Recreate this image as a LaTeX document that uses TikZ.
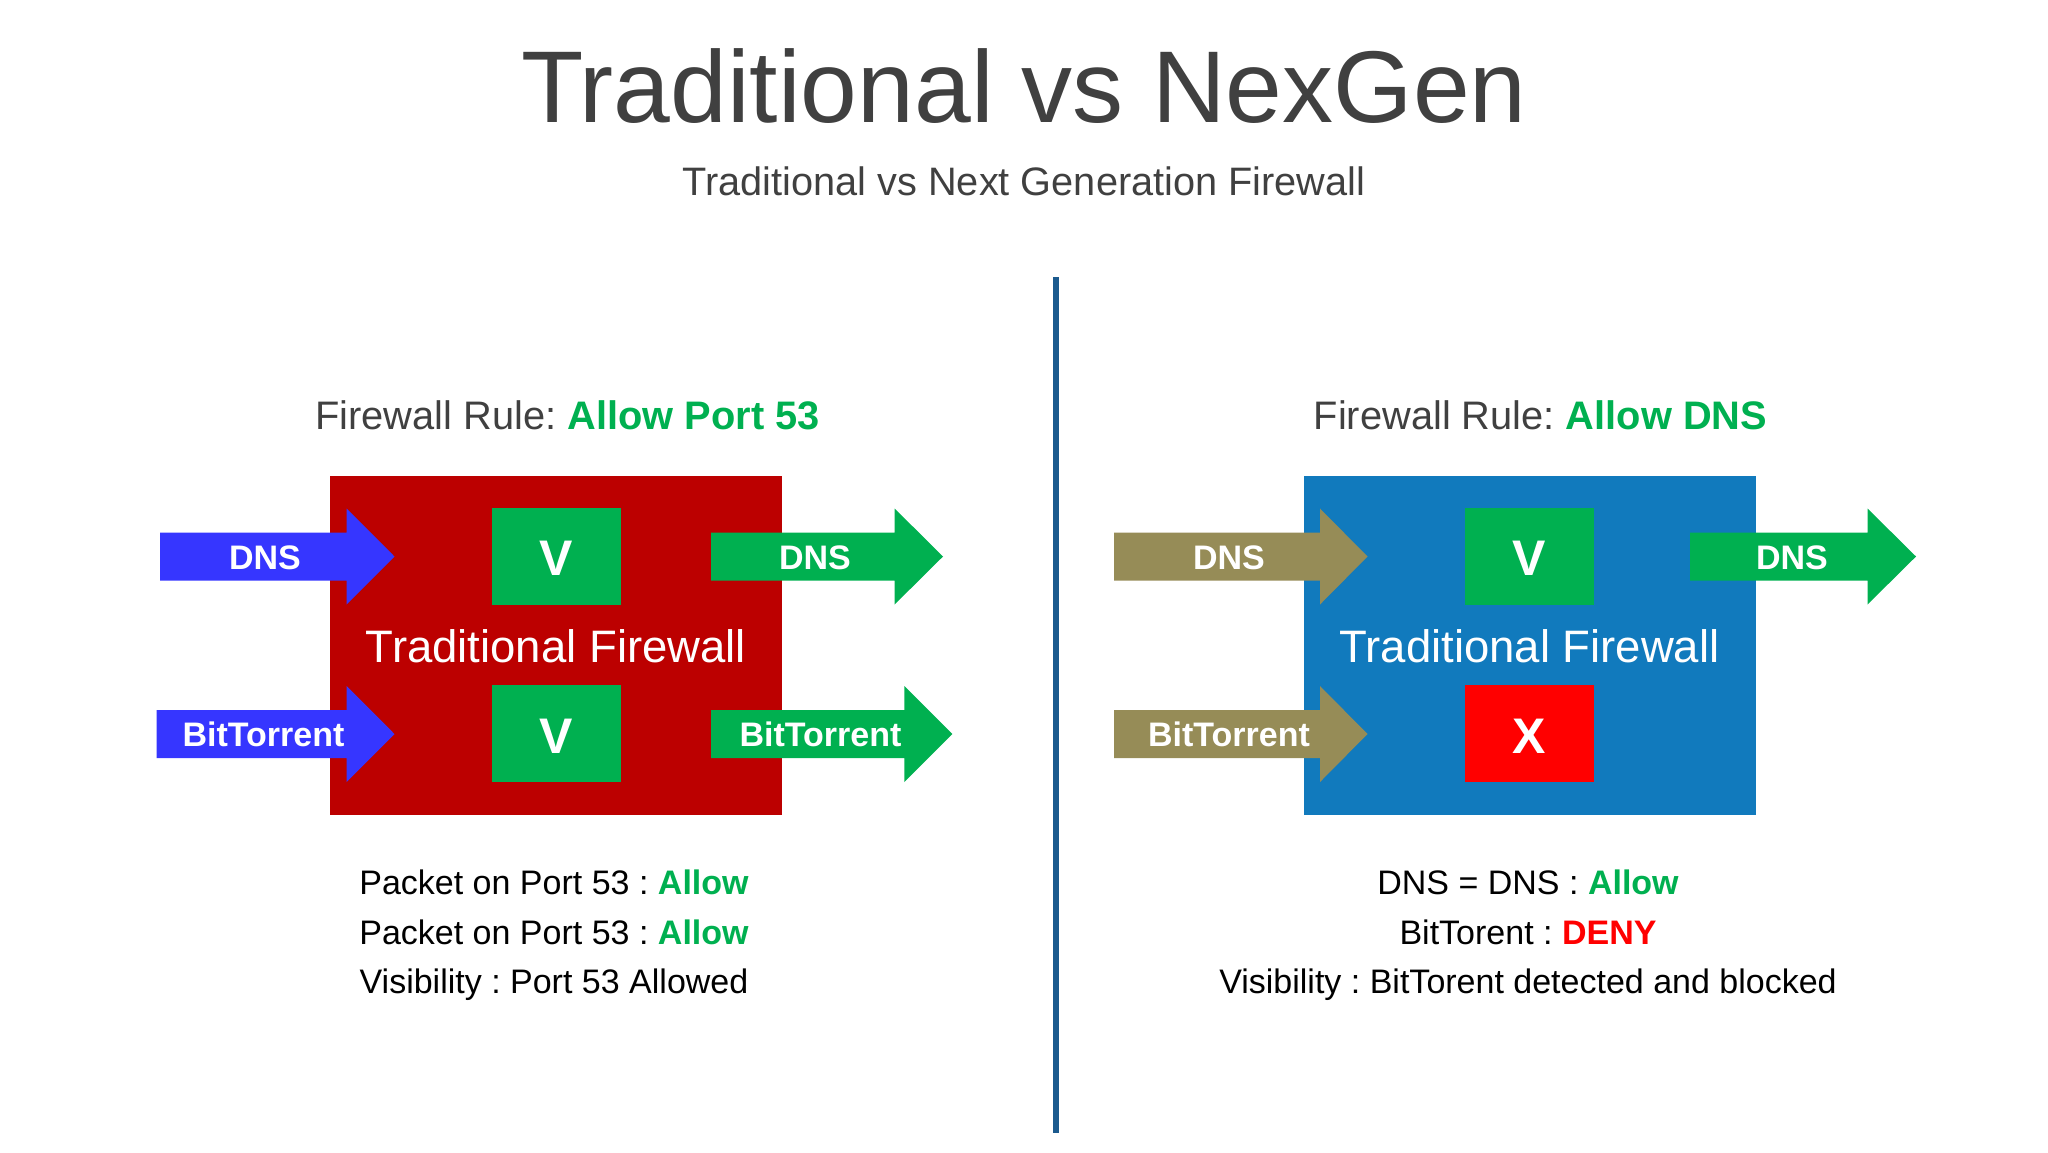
\documentclass[tikz,border=0pt]{standalone}
\usepackage{fontspec}
\setmainfont{Liberation Sans}
\usepackage{tikz}
\frenchspacing

\definecolor{custcol_title}{RGB}{64, 64, 64}
\definecolor{custcol_green}{RGB}{0, 176, 80}
\definecolor{custcol_red}{RGB}{255, 0, 0}
\definecolor{custcol_fwred}{RGB}{188, 0, 0}
\definecolor{custcol_fwblue}{RGB}{17, 122, 189}
\definecolor{custcol_blue}{RGB}{54, 54, 255}
\definecolor{custcol_olive}{RGB}{150, 140, 87}
\definecolor{custcol_line}{RGB}{27, 90, 142}

\tikzset{
  lbl/.style={inner sep=0, outer sep=0, anchor=base},
  titletxt/.style={lbl, custcol_title, font=\fontsize{102}{102}\selectfont},
  subtxt/.style={lbl, custcol_title, font=\fontsize{39.7}{40}\selectfont},
  ruletxt/.style={lbl, custcol_title, font=\fontsize{39.8}{40}\selectfont},
  fwtxt/.style={lbl, white, font=\fontsize{45.5}{46}\selectfont},
  verdicttxt/.style={lbl, black, font=\fontsize{34}{34}\selectfont},
  arrowtxt/.style={lbl, white, font=\fontsize{34}{34}\bfseries\selectfont},
  marktxt/.style={lbl, white, font=\fontsize{50}{50}\bfseries\selectfont},
  fwbox/.style={inner sep=0, outer sep=0, minimum width=452, minimum height=339},
  markbox/.style={inner sep=0, outer sep=0, minimum width=129, minimum height=97},
}

\begin{document}
\begin{tikzpicture}[x=1pt,y=-1pt]
	\useasboundingbox (0,0) rectangle (2048,1152);
	% heading
	\node[titletxt] (title) at (1024,122) {Traditional vs NexGen};
	\node[subtxt] (subtitle) at (1024,195) {Traditional vs Next Generation Firewall};
	% divider
	\coordinate (divtop) at (1056,277);
	\coordinate (divbot) at (1056,1133);
	\draw [line width=5.7pt, custcol_line] (divtop) -- (divbot);
	% left side
	\node[ruletxt] (ruleA) at (567.5,429) {Firewall Rule: \textcolor{custcol_green}{\bfseries Allow Port 53}};
	\node[fwbox, fill=custcol_fwred] (fwA) at (556,645.5) {};
	\node[markbox, fill=custcol_green] (topA) at (556,556.5) {};
	\node[markbox, fill=custcol_green] (botA) at (556,733.8) {};
	\node[marktxt] (topAv) at (556,575.7) {V};
	\node[marktxt] (botAv) at (556,753) {V};
	\node[fwtxt] (fwAtxt) at (556,662) {Traditional Firewall};
	\fill [custcol_blue] (160,532.5) -- (346.7,532.5) -- (346.7,508.5) -- (394.5,556.5) -- (346.7,604.5) -- (346.7,580.5) -- (160,580.5) -- cycle;
	\fill [custcol_blue] (156.7,710) -- (346.7,710) -- (346.7,686) -- (394.5,734) -- (346.7,782) -- (346.7,758) -- (156.7,758) -- cycle;
	\fill [custcol_green] (711,532.5) -- (894.6,532.5) -- (894.6,508.5) -- (943,556.5) -- (894.6,604.5) -- (894.6,580.5) -- (711,580.5) -- cycle;
	\fill [custcol_green] (711,710) -- (904.3,710) -- (904.3,686) -- (952.3,734) -- (904.3,782) -- (904.3,758) -- (711,758) -- cycle;
	\node[arrowtxt] (inAdns) at (265,569) {DNS};
	\node[arrowtxt] (inAbt) at (263.5,746.7) {BitTorrent};
	\node[arrowtxt] (outAdns) at (815,569) {DNS};
	\node[arrowtxt] (outAbt) at (820.5,746.7) {BitTorrent};
	\node[verdicttxt] (verA1) at (554,894) {Packet on Port 53 : \textcolor{custcol_green}{\bfseries Allow}};
	\node[verdicttxt] (verA2) at (554,944) {Packet on Port 53 : \textcolor{custcol_green}{\bfseries Allow}};
	\node[verdicttxt] (verA3) at (554,993) {Visibility : Port 53 Allowed};
	% right side
	\node[ruletxt] (ruleB) at (1540.5,429) {Firewall Rule: \textcolor{custcol_green}{\bfseries Allow DNS}};
	\node[fwbox, fill=custcol_fwblue] (fwB) at (1529.5,645.5) {};
	\node[markbox, fill=custcol_green] (topB) at (1529.5,556.5) {};
	\node[markbox, fill=custcol_red] (botB) at (1529.5,733.8) {};
	\node[marktxt] (topBv) at (1529.5,575.7) {V};
	\node[marktxt] (botBx) at (1529.5,753) {X};
	\node[fwtxt] (fwBtxt) at (1529.5,662) {Traditional Firewall};
	\fill [custcol_olive] (1114,532.5) -- (1320,532.5) -- (1320,508.5) -- (1367.5,556.5) -- (1320,604.5) -- (1320,580.5) -- (1114,580.5) -- cycle;
	\fill [custcol_olive] (1114,710) -- (1320,710) -- (1320,686) -- (1367.5,734) -- (1320,782) -- (1320,758) -- (1114,758) -- cycle;
	\fill [custcol_green] (1690,532.5) -- (1867.5,532.5) -- (1867.5,508.5) -- (1916,556.5) -- (1867.5,604.5) -- (1867.5,580.5) -- (1690,580.5) -- cycle;
	\node[arrowtxt] (inBdns) at (1229,569) {DNS};
	\node[arrowtxt] (inBbt) at (1229,746.7) {BitTorrent};
	\node[arrowtxt] (outBdns) at (1792,569) {DNS};
	\node[verdicttxt] (verB1) at (1528,894) {DNS = DNS : \textcolor{custcol_green}{\bfseries Allow}};
	\node[verdicttxt] (verB2) at (1528,944) {BitTorent : \textcolor{custcol_red}{\bfseries DENY}};
	\node[verdicttxt] (verB3) at (1528,993) {Visibility : BitTorent detected and blocked};
\end{tikzpicture}
\end{document}
